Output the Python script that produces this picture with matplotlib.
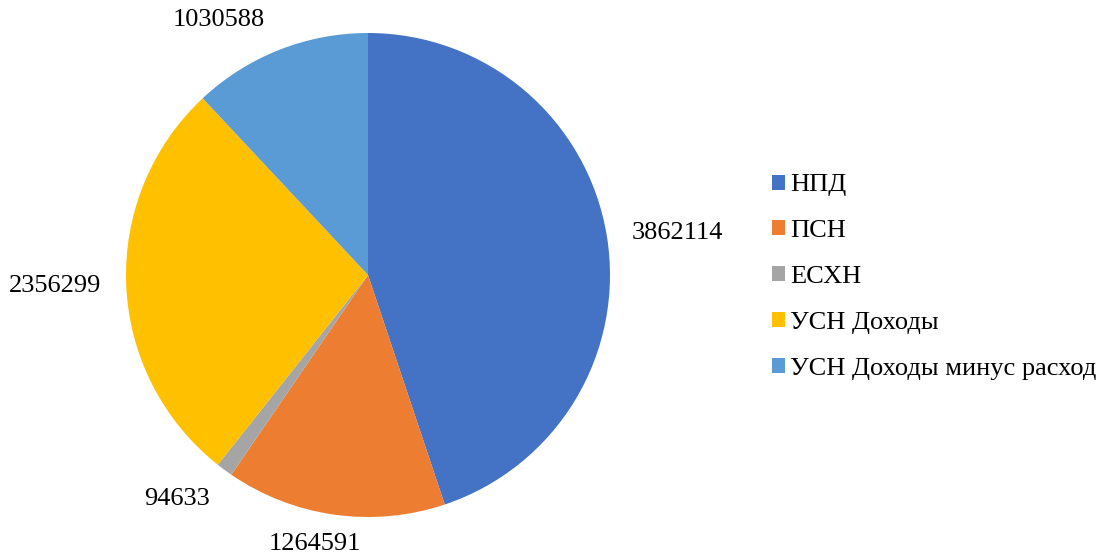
import numpy as np
import matplotlib.pyplot as plt
from matplotlib.patches import Patch

plt.rcParams['font.family'] = ['Liberation Serif', 'DejaVu Serif']
fontsize = 19

labels = ['НПД', 'ПСН', 'ЕСХН', 'УСН Доходы', 'УСН Доходы минус расход']
values = [3862114, 1264591, 94633, 2356299, 1030588]
colors = ['#4472C4', '#ED7D31', '#A5A5A5', '#FFC000', '#5B9BD5']
# small nudges for the value labels, like Excel's placement
nudge = [-0.5, -2, -2, 0, 6]   # deg
gap = [0, -4, 8, 0, 10]        # px

W, H = 1107, 556
fig = plt.figure(figsize=(W / 100, H / 100), dpi=100)

# pie centred at (368, 275) px, radius 242 px
cx, cy, r = 368, 275, 242
ax = fig.add_axes([(cx - r) / W, 1 - (cy + r) / H, 2 * r / W, 2 * r / H])
wedges, _ = ax.pie(values, colors=colors, startangle=90, counterclock=False,
                   radius=1, wedgeprops=dict(linewidth=0))
ax.set_xlim(-1, 1)
ax.set_ylim(-1, 1)
ax.set_aspect('auto')
ax.axis('off')

# value labels just outside the wedges
px = 1.0 / r  # one pixel in data units
for w, v, n, g in zip(wedges, values, nudge, gap):
    mid = np.deg2rad((w.theta1 + w.theta2) / 2 + n)
    s = str(v)
    hw = len(s) * 13.3 / 2 * px
    hh = 11 * px
    d = 1.1 + g * px
    x = d * np.cos(mid) + hw * np.cos(mid)
    y = d * np.sin(mid) + hh * np.sin(mid)
    ax.text(x, y, s, ha='center', va='center', fontsize=fontsize, clip_on=False)

handles = [Patch(facecolor=c, edgecolor='none') for c in colors]
fig.legend(handles, labels, loc='center left',
           bbox_to_anchor=(772 / W, 1 - 277 / H), frameon=False,
           fontsize=fontsize, handlelength=0.5, handleheight=0.5,
           handletextpad=0.2, labelspacing=0.9, borderpad=0, borderaxespad=0)

plt.savefig('out.png', dpi=100)
